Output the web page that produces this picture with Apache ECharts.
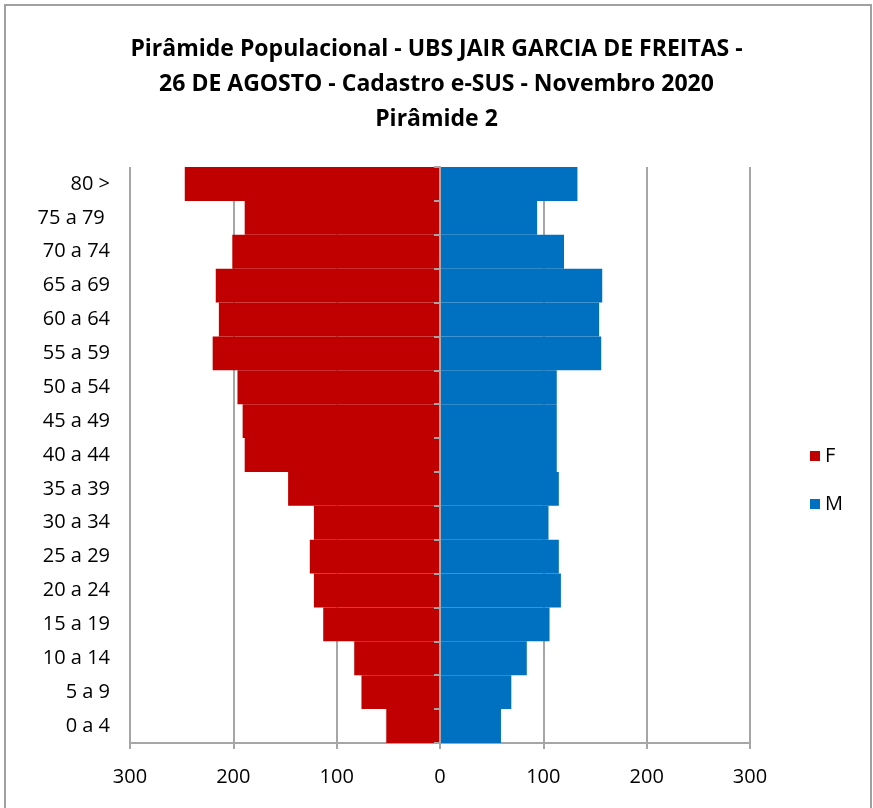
<!DOCTYPE html>
<html>
<head>
<meta charset="utf-8">
<script src="https://cdn.jsdelivr.net/npm/echarts@6/dist/echarts.min.js"></script>
<style>
  html, body { margin: 0; padding: 0; background: #fff; }
  #chart { width: 873px; height: 808px; }
</style>
</head>
<body>
<div id="chart"></div>
<script>
// faixas etárias, de baixo para cima
const faixas = ['0 a 4', '5 a 9', '10 a 14', '15 a 19', '20 a 24', '25 a 29', '30 a 34',
  '35 a 39', '40 a 44', '45 a 49', '50 a 54', '55 a 59', '60 a 64', '65 a 69',
  '70 a 74', '75 a 79 ', '80 >'];
const feminino = [52, 76, 83, 113, 122, 126, 122, 147, 189, 191, 196, 220, 214, 217, 201, 189, 247];
const masculino = [59, 69, 84, 106, 117, 115, 105, 115, 113, 113, 113, 156, 154, 157, 120, 94, 133];
const xTicks = [-300, -200, -100, 0, 100, 200, 300];

const fonte = '"Open Sans", sans-serif';
const cinza = '#a6a6a6';

const chart = echarts.init(document.getElementById('chart'));

chart.setOption({
  animation: false,
  title: {
    text: 'Pirâmide Populacional - UBS JAIR GARCIA DE FREITAS -\n26 DE AGOSTO - Cadastro e-SUS - Novembro 2020\nPirâmide 2',
    left: 'center',
    top: 27,
    textStyle: { fontFamily: fonte, fontSize: 23, fontWeight: 'bold', color: '#000', lineHeight: 35 }
  },
  legend: {
    orient: 'vertical',
    left: 805,
    top: 441,
    icon: 'rect',
    itemWidth: 10,
    itemHeight: 10,
    itemGap: 28,
    textStyle: { fontFamily: fonte, fontSize: 20, color: '#000', lineHeight: 20 },
    data: ['F', 'M']
  },
  graphic: [{
    type: 'rect',
    shape: { x: 5, y: 5, width: 866, height: 810 },
    style: { fill: 'none', stroke: '#a0a0a0', lineWidth: 2 },
    silent: true
  }],
  grid: { left: 130, right: 123, top: 167, bottom: 65 },
  xAxis: {
    type: 'value',
    min: -300,
    max: 300,
    interval: 100,
    axisLine: { show: true, onZero: false, lineStyle: { color: cinza, width: 2 } },
    axisTick: { show: true, length: 6, lineStyle: { color: cinza, width: 2 } },
    axisLabel: {
      margin: 24,
      fontFamily: fonte, fontSize: 20, color: '#000',
      formatter: v => xTicks.includes(v) ? String(Math.abs(v)) : ''
    },
    splitLine: { show: true, lineStyle: { color: cinza, width: 2 } }
  },
  yAxis: [
    {
      type: 'category',
      data: faixas,
      axisLine: { show: false, onZero: false },
      axisTick: { show: false },
      axisLabel: { margin: 20, fontFamily: fonte, fontSize: 20, color: '#000' }
    },
    {
      type: 'category',
      data: faixas,
      position: 'left',
      z: 5,
      axisLine: { show: true, onZero: true, lineStyle: { color: cinza, width: 2 } },
      axisTick: { show: true, length: 6, lineStyle: { color: cinza, width: 2 } },
      axisLabel: { show: false }
    }
  ],
  series: [
    {
      name: 'F',
      type: 'bar',
      stack: 'pop',
      barCategoryGap: 0,
      itemStyle: { color: '#c00000' },
      data: feminino.map(v => -v)
    },
    {
      name: 'M',
      type: 'bar',
      stack: 'pop',
      barCategoryGap: 0,
      itemStyle: { color: '#0070c0' },
      data: masculino
    }
  ]
});
</script>
</body>
</html>
